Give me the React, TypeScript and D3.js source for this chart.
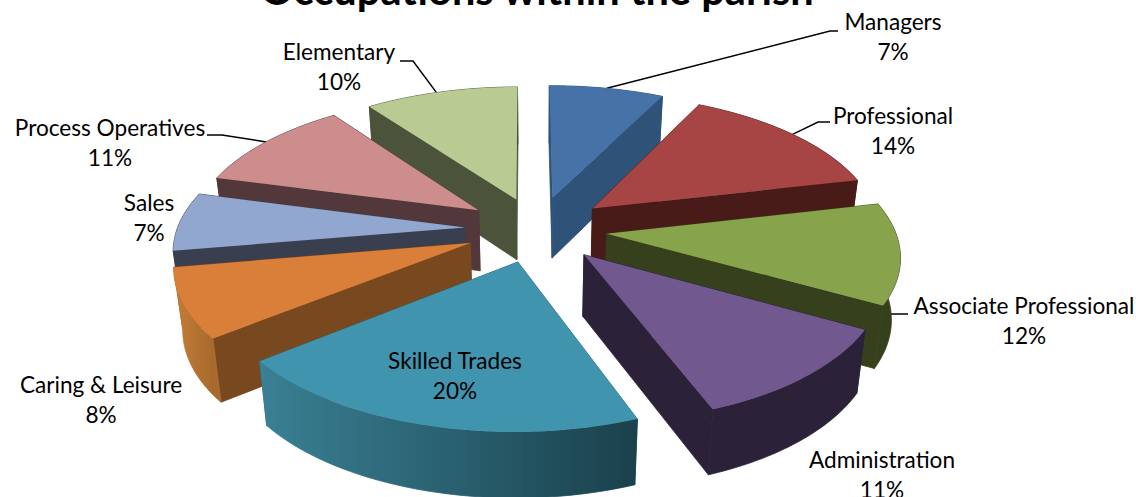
import React from "react";
import * as d3 from "d3";

const W = 1136, H = 497;
const categories = ["Managers","Professional","Associate Professional","Administration","Skilled Trades","Caring & Leisure","Sales","Process Operatives","Elementary"];
const values = [7.49,14,11.7,11.1,20.1,8,6.8,10.8,10];
const explode = [70,72,70,70,70,72,72,72,68];
const topColors = ["#4672a8","#a64543","#87a34c","#71588f","#4094ae","#d97f3a","#91a7cf","#cd8d8d","#b9cb92"];
const sideColors = ["#2f5278","#481a18","#36401c","#2b2139","#2d6678","#78481f","#3a3f50","#52383a","#4b533a"];
const wallLeft = ["#2f5278","#481a18","#36401c","#2b2139","#3a8094","#c47d38","#3a3f50","#52383a","#4b533a"];
const wallRight = ["#2f5278","#481a18","#36401c","#2b2139","#1a414c","#a86a2c","#3a3f50","#52383a","#4b533a"];
const drawOrder = [8,0,7,1,6,2,5,3,4];
// label centre x, first line centre y, leader elbow points
const labelX = [893,893,1024,882,455,101,149,110,339];
const labelY = [22,116,306,460,361,385,203,128,52];
const leaderElbows: number[][][] = [
  [[830,31],[838,31]],[[818,122],[830,122]],[[888,314],[908,314]],[],[],[],[],[[222,135],[207,135]],[[413,61],[400,61]],
];
const leaderFrac = [0.5,0.5,0.9,0,0,0,0,0.5,0.47];
const leaderZ = [0,0,0.2,0,0,0,0,0,0];

const cx = 537, cy = 229, R = 288, k = 0.472, p = 0.14, depth = 61, shrink = 0.025;
const startDeg = -0.3;
const font = "Lato, Carlito, Calibri, sans-serif";

function project(theta: number, r: number, e: number, mid: number, z: number): [number, number] {
  const X = Math.sin(theta) * r + Math.sin(mid) * e;
  const Y = -Math.cos(theta) * r - Math.cos(mid) * e;
  const s = 1 / (1 - (p * Y) / R);
  const zs = 1 - shrink * z;
  return [cx + X * s * zs, cy + k * Y * s + depth * (0.6 + 0.4 * s) * z];
}

export default function App() {
  const start = (startDeg * Math.PI) / 180;
  const arcs = d3.pie<number>().sort(null).startAngle(start).endAngle(start + 2 * Math.PI)(values);
  const line = d3.line();
  const slices = arcs.map((a, i) => {
    const mid = (a.startAngle + a.endAngle) / 2;
    const e = explode[i];
    const thetas = d3.range(0, 41).map((j) => a.startAngle + ((a.endAngle - a.startAngle) * j) / 40);
    const topArc = thetas.map((t) => project(t, R, e, mid, 0));
    const botArc = thetas.map((t) => project(t, R, e, mid, 1));
    const apexT = project(mid, 0, e, mid, 0);
    const apexB = project(mid, 0, e, mid, 1);
    const top = line([apexT, ...topArc])! + "Z";
    const wallA = line([apexT, topArc[0], botArc[0], apexB])! + "Z";
    const wallB = line([apexT, topArc[40], botArc[40], apexB])! + "Z";
    const outer = line([...topArc, ...[...botArc].reverse()])! + "Z";
    const xs = topArc.map((q) => q[0]);
    return { i, mid, e, top, wallA, wallB, outer, a, minX: d3.min(xs)!, maxX: d3.max(xs)! };
  });
  return (
    <svg width={W} height={H} style={{ position: "fixed", left: 0, top: 0, background: "#fff" }} fontFamily={font}>
      <defs>
        {slices.map((s) => (
          <linearGradient key={s.i} id={`wall${s.i}`} gradientUnits="userSpaceOnUse" x1={s.minX} x2={s.maxX} y1={0} y2={0}>
            <stop offset="0" stopColor={wallLeft[s.i]} />
            <stop offset="1" stopColor={wallRight[s.i]} />
          </linearGradient>
        ))}
      </defs>
      <text x={537} y={5} textAnchor="middle" fontSize={41.6} fontWeight={700} fill="#000">Occupations within the parish</text>
      {slices.map((s) => {
        const el = leaderElbows[s.i];
        if (!el.length) return null;
        const t = s.a.startAngle + (s.a.endAngle - s.a.startAngle) * leaderFrac[s.i];
        const pts = [project(t, R, s.e, s.mid, leaderZ[s.i]) as [number, number], ...(el as [number, number][])];
        return <path key={s.i} d={line(pts)!} fill="none" stroke="#000" strokeWidth={1.5} />;
      })}
      {drawOrder.map((i) => {
        const s = slices[i];
        return (
          <g key={i}>
            <path d={s.wallA} fill={sideColors[i]} stroke={sideColors[i]} strokeWidth={0.8} />
            <path d={s.wallB} fill={sideColors[i]} stroke={sideColors[i]} strokeWidth={0.8} />
            <path d={s.outer} fill={`url(#wall${i})`} stroke={`url(#wall${i})`} strokeWidth={0.8} />
            <path d={s.top} fill={topColors[i]} />
          </g>
        );
      })}
      {categories.map((c, i) => (
        <text key={c} textAnchor="middle" fontSize={22.6} fill="#000">
          <tspan x={labelX[i]} y={labelY[i] + 8}>{c}</tspan>
          <tspan x={labelX[i]} y={labelY[i] + 38}>{Math.round(values[i])}%</tspan>
        </text>
      ))}
    </svg>
  );
}
